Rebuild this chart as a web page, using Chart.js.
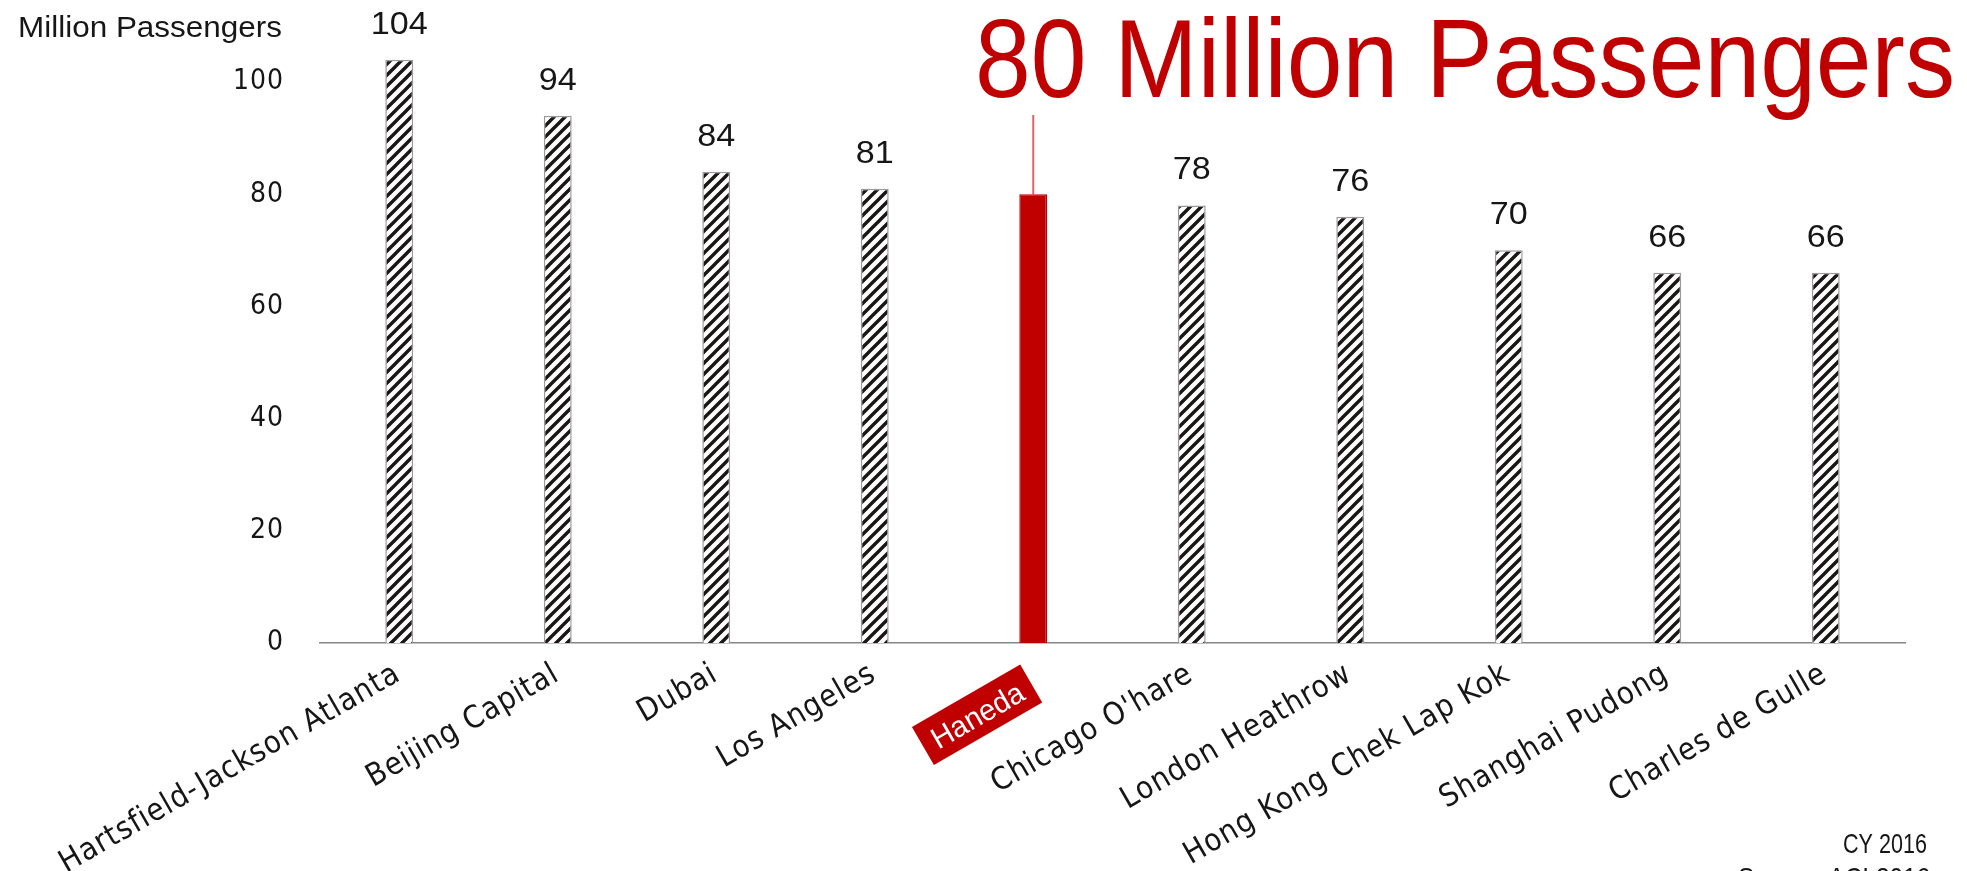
<!DOCTYPE html>
<html>
<head>
<meta charset="utf-8">
<script src="https://cdn.jsdelivr.net/npm/chart.js@4"></script>
<style>
  html, body { margin: 0; padding: 0; background: #ffffff; }
  #wrap { width: 1967px; height: 871px; position: relative; }
</style>
</head>
<body>
<div id="wrap"><canvas id="graficoAeroportos"></canvas></div>
<script>
const airports = ['Hartsfield-Jackson Atlanta', 'Beijing Capital', 'Dubai', 'Los Angeles', 'Haneda',
    'Chicago O\'hare', 'London Heathrow', 'Hong Kong Chek Lap Kok', 'Shanghai Pudong', 'Charles de Gulle'];
const passengers = [104, 94, 84, 81, 80, 78, 76, 70, 66, 66];
const yTicks = [0, 20, 40, 60, 80, 100];
const highlight = 'Haneda';

const FONT = "'Liberation Sans', Arial, sans-serif";
const NARROW = "'Liberation Sans Narrow', 'DejaVu Sans Condensed', 'Liberation Sans', sans-serif";
const RED = '#c00000';
const INK = '#161616';
const hi = airports.indexOf(highlight);

// diagonal hatch for the normal bars
function hatch() {
    const n = 11;
    const c = document.createElement('canvas');
    c.width = n; c.height = n;
    const g = c.getContext('2d');
    g.fillStyle = '#ffffff';
    g.fillRect(0, 0, n, n);
    g.strokeStyle = '#1b1616';
    g.lineWidth = 3.4;
    g.beginPath();
    g.moveTo(-1, n + 1); g.lineTo(n + 1, -1);
    g.moveTo(-n, n); g.lineTo(n, -n);
    g.moveTo(0, 2 * n); g.lineTo(2 * n, 0);
    g.stroke();
    return g.createPattern(c, 'repeat');
}

// draws a text squeezed/stretched to a given width
function fitText(ctx, text, x, y, size, width, align, color) {
    ctx.save();
    ctx.letterSpacing = '0px';
    ctx.font = size + 'px ' + FONT;
    ctx.fillStyle = color;
    ctx.textBaseline = 'alphabetic';
    const w = ctx.measureText(text).width;
    const k = width / w;
    let left = x;
    if (align === 'right') left = x - width;
    if (align === 'center') left = x - width / 2;
    ctx.translate(left, y);
    ctx.scale(k, 1);
    ctx.textAlign = 'left';
    ctx.fillText(text, 0, 0);
    ctx.restore();
}

const extras = {
    id: 'extras',
    beforeLayout(chart) { chart.ctx.letterSpacing = '1px'; },
    beforeDraw(chart) { chart.ctx.letterSpacing = '1px'; },
    afterDatasetsDraw(chart) {
        const ctx = chart.ctx;
        const bars = chart.getDatasetMeta(0).data;
        bars.forEach((bar, i) => {
            if (i === hi) return;
            const txt = String(passengers[i]);
            fitText(ctx, txt, bar.x, bar.y - 26, 31, txt.length * 19, 'center', INK);
        });
        // leader from the highlighted bar to the headline
        const b = bars[hi];
        ctx.save();
        ctx.strokeStyle = 'rgba(192,0,0,0.6)';
        ctx.lineWidth = 2;
        ctx.beginPath();
        ctx.moveTo(b.x, b.y);
        ctx.lineTo(b.x, 115);
        ctx.stroke();
        ctx.restore();

        // highlighted category label in a red box
        const xs = chart.scales.x;
        ctx.save();
        ctx.translate(xs.getPixelForTick(hi), xs.top);
        ctx.rotate(-xs.labelRotation * Math.PI / 180);
        ctx.fillStyle = RED;
        ctx.fillRect(-147, 12, 125, 44);
        fitText(ctx, airports[hi], -84.5, 45, 30, 102, 'center', '#ffffff');
        ctx.restore();

        fitText(ctx, passengers[hi] + ' Million Passengers', 975, 97, 112, 980, 'left', RED);
        fitText(ctx, 'Million Passengers', 18, 37, 29, 264, 'left', INK);
        fitText(ctx, 'CY 2016', 1927, 853, 28, 84, 'right', INK);
        fitText(ctx, 'Source: ACI 2016', 1930, 887, 28, 192, 'right', INK);
    }
};

const ctxAero = document.getElementById('graficoAeroportos').getContext('2d');
const stripes = hatch();

new Chart(ctxAero, {
    type: 'bar',
    data: {
        labels: airports,
        datasets: [{
            data: passengers,
            backgroundColor: airports.map((a, i) => i === hi ? RED : stripes),
            borderColor: airports.map((a, i) => i === hi ? RED : '#9a9a9a'),
            borderWidth: 1.5,
            barPercentage: 1,
            categoryPercentage: 0.176
        }]
    },
    options: {
        responsive: true,
        maintainAspectRatio: false,
        animation: false,
        layout: {padding: {top: 26, right: 62, left: 0, bottom: 0}},
        plugins: {
            legend: {display: false},
            tooltip: {enabled: false}
        },
        scales: {
            x: {
                grid: {display: false, drawTicks: false},
                border: {display: true, color: '#858585', width: 1.5},
                ticks: {
                    autoSkip: false,
                    minRotation: 30,
                    maxRotation: 30,
                    padding: 13,
                    labelOffset: -1,
                    font: {family: NARROW, size: 31},
                    color: c => c.index === hi ? 'rgba(0,0,0,0)' : INK
                },
                afterFit: s => { s.height = 228; }
            },
            y: {
                min: 0,
                max: 110,
                grid: {display: false, drawTicks: false},
                border: {display: false},
                afterBuildTicks: s => { s.ticks = yTicks.map(v => ({value: v})); },
                ticks: {
                    padding: 36,
                    font: {family: NARROW, size: 28},
                    color: INK
                },
                afterFit: s => {
                    s.width = 320;
                    s.paddingTop = 0;
                    s.paddingBottom = 0;
                }
            }
        }
    },
    plugins: [extras]
});
</script>
</body>
</html>
